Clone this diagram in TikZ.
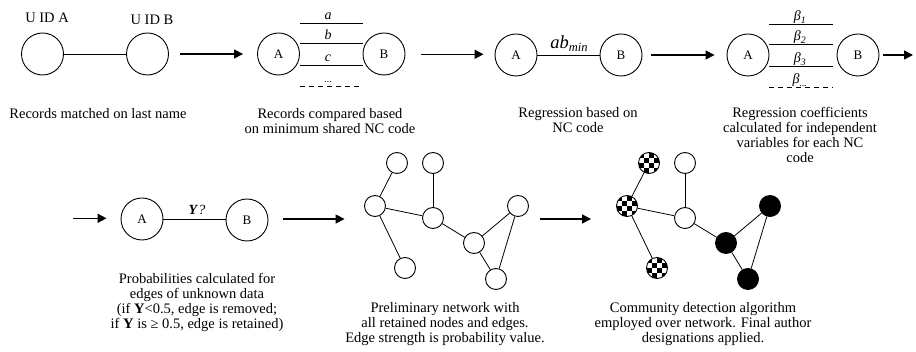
\documentclass[tikz,border=0pt]{standalone}
\usepackage{fontspec}
\setmainfont{Liberation Serif}
\usetikzlibrary{arrows.meta,calc}
\begin{document}
\begin{tikzpicture}[x=1pt,y=-1pt,
  big/.style={circle,draw,line width=0.9pt,minimum size=42pt,inner sep=0pt,font=\fontsize{13}{13}\selectfont},
  small/.style={circle,draw,line width=0.9pt,minimum size=21pt,inner sep=0pt},
  chk/.style={small,path picture={
      \foreach \a/\b in {0/1,0/3,1/0,1/2,2/1,2/3,3/0,3/2}
        \fill[black] ([shift={(\a*5.25pt-10.5pt,\b*5.25pt-10.5pt)}]path picture bounding box.center) rectangle ++(5.25pt,5.25pt);}},
  blk/.style={small,fill=black},
  link/.style={line width=0.8pt},
  dlink/.style={line width=0.8pt,dash pattern=on 5pt off 4pt},
  arr/.style={line width=1.5pt,-{Triangle[length=9pt,width=9pt]}},
  captxt/.style={align=center,anchor=north,inner sep=0pt,font=\fontsize{14.5}{15}\selectfont},
  lbl/.style={inner sep=0pt,anchor=base,font=\fontsize{14}{14}\selectfont}]
\useasboundingbox (0,0) rectangle (916,352);

% ---- panel 1
\node[big] (A1) at (42.5,54) {};
\node[big] (B1) at (147.5,54) {};
\draw[link] (A1) -- (B1);
\node[font=\fontsize{14.5}{15}\selectfont] (uA) at (47,18) {U ID A};
\node[font=\fontsize{14.5}{15}\selectfont] (uB) at (152,20) {U ID B};
\node[captxt] (t1) at (98,108) {Records matched on last name};

% ---- panel 2
\node[big] (A2) at (278.5,54) {A};
\node[big] (B2) at (384,54) {B};
\draw[link] ([yshift=31pt]A2.east) -- ([yshift=31pt]B2.west);
\draw[link] ([yshift=11pt]A2.east) -- ([yshift=11pt]B2.west);
\draw[link] ([yshift=-11pt]A2.east) -- ([yshift=-11pt]B2.west);
\draw[dlink] ([yshift=-32pt]A2.east) -- ([yshift=-32pt]B2.west);
\node[lbl] (la) at (328,20) {\textit{a}};
\node[lbl] (lb) at (328,40) {\textit{b}};
\node[lbl] (lc) at (328,62) {\textit{c}};
\node[lbl,font=\fontsize{10}{10}\selectfont] (ld) at (328,83) {...};
\node[captxt] (t2) at (330,108) {Records compared based\\on minimum shared NC code};

% ---- panel 3
\node[big] (A3) at (516,55) {A};
\node[big] (B3) at (621,55) {B};
\draw[link] (A3) -- (B3);
\node[lbl] (lab) at (569,49) {{\fontsize{18.5}{18.5}\selectfont\itshape ab}\raisebox{-3pt}{\fontsize{12.5}{12.5}\selectfont\itshape min}};
\node[captxt] (t3) at (578,107) {Regression based on\\NC code};

% ---- panel 4
\node[big] (A4) at (748,55) {A};
\node[big] (B4) at (858,55) {B};
\draw[link] ([yshift=31pt]A4.east) -- ([xshift=-4pt,yshift=31pt]B4.west);
\draw[link] ([yshift=11pt]A4.east) -- ([xshift=-4pt,yshift=11pt]B4.west);
\draw[link] ([yshift=-11pt]A4.east) -- ([xshift=-4pt,yshift=-11pt]B4.west);
\draw[dlink] ([yshift=-32pt]A4.east) -- ([xshift=-4pt,yshift=-32pt]B4.west);
\node[lbl] (b1) at (800,21) {\textit{β}\textsubscript{\textit{1}}};
\node[lbl] (b2) at (800,41) {\textit{β}\textsubscript{\textit{2}}};
\node[lbl] (b3) at (800,63) {\textit{β}\textsubscript{\textit{3}}};
\node[lbl] (b4) at (800,84) {\textit{β}\textsubscript{\textit{...}}};
\node[captxt] (t4) at (800,107) {Regression coefficients\\calculated for independent\\variables for each NC\\code};

% ---- panel 5
\node[big] (A5) at (142,219) {A};
\node[big] (B5) at (247,220) {B};
\draw[link] (A5.east) -- (A5.east -| B5.west);
\node[lbl] (ly) at (197,215) {\textbf{\textit{Y}}\textit{?}};
\node[captxt] (t5) at (197,273) {Probabilities calculated for\\edges of unknown data\\(if \textbf{Y}<0.5, edge is removed;\\if \textbf{Y} is ≥ 0.5, edge is retained)};

% ---- panel 6
\node[small] (p1) at (397,163) {};
\node[small] (p2) at (433,163) {};
\node[small] (p3) at (375,206) {};
\node[small] (p4) at (433,218) {};
\node[small] (p5) at (518,206) {};
\node[small] (p6) at (474,243) {};
\node[small] (p7) at (405,268) {};
\node[small] (p8) at (496,279) {};
\draw[link] (p1) -- (p3);
\draw[link] (p2) -- (p4);
\draw[link] (p3) -- (p4);
\draw[link] (p3) -- (p7);
\draw[link] (p4) -- (p6);
\draw[link] (p6) -- (p5);
\draw[link] (p6) -- (p8);
\draw[link] (p5) -- (p8);
\node[captxt] (t6) at (445,302) {Preliminary network with\\all retained nodes and edges.\\Edge strength is probability value.};

% ---- panel 7
\node[chk] (q1) at (649,163) {};
\node[small] (q2) at (685,163) {};
\node[chk] (q3) at (627,206) {};
\node[small] (q4) at (685,218) {};
\node[blk] (q5) at (770,206) {};
\node[blk] (q6) at (726,243) {};
\node[chk] (q7) at (657,268) {};
\node[blk] (q8) at (748,279) {};
\draw[link] (q1) -- (q3);
\draw[link] (q2) -- (q4);
\draw[link] (q3) -- (q4);
\draw[link] (q3) -- (q7);
\draw[link] (q4) -- (q6);
\draw[link] (q6) -- (q5);
\draw[link] (q6) -- (q8);
\draw[link] (q5) -- (q8);
\node[captxt] (t7) at (703,302) {Community detection algorithm\\employed over network. Final author\\designations applied.};

% ---- arrows
\coordinate (e4) at (913,55);
\coordinate (s5) at (73,218.3);
\draw[arr] ([xshift=11.5pt]B1.east) -- ([xshift=-14pt]A2.west);
\draw[arr] ([xshift=16pt,yshift=-0.3pt]B2.east) -- ([xshift=-11pt,yshift=-0.3pt]A3.west |- B2.east);
\draw[arr] ([xshift=9pt]B3.east) -- ([xshift=-12pt]A4.west);
\draw[arr] ([xshift=4pt]B4.east) -- (e4);
\draw[arr] (s5) -- ([xshift=-14pt]A5.west |- s5);
\draw[arr] ([xshift=15pt]B5.east |- A5.east) -- ([xshift=-19.5pt]p3.west |- A5.east);
\draw[arr] ([xshift=11.5pt]p5.east |- A5.east) -- ([xshift=-25pt]q3.west |- A5.east);
\end{tikzpicture}
\end{document}
